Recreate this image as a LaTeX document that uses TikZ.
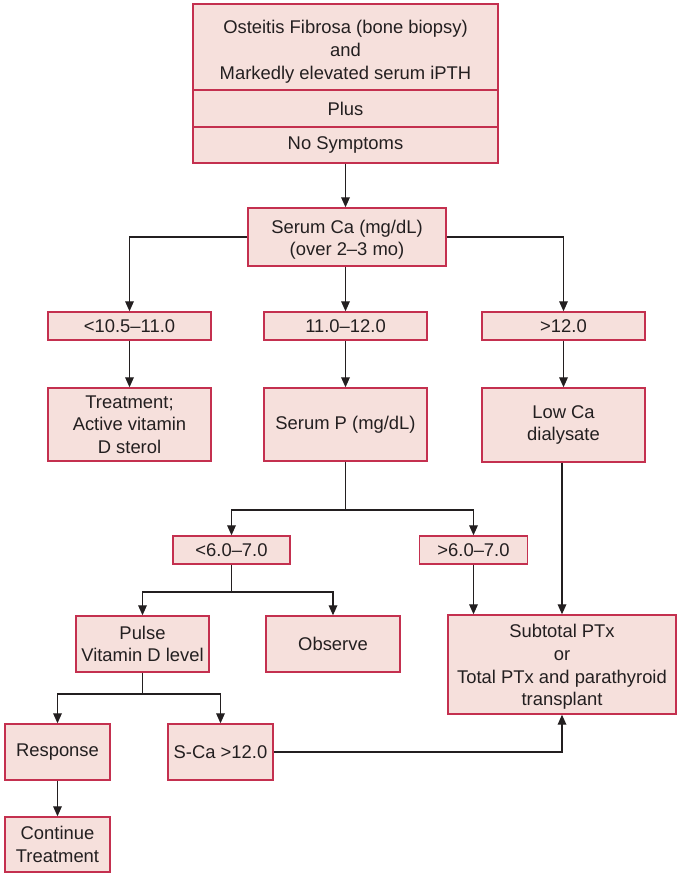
\documentclass[tikz,border=0pt]{standalone}
\usepackage{fontspec}
\setmainfont{Liberation Sans}
\usetikzlibrary{arrows.meta}
\definecolor{boxfill}{HTML}{F6E0DC}
\definecolor{boxline}{HTML}{C4304F}
\definecolor{inkgray}{HTML}{231F20}
% invisible strut that pushes a text block a little down in its box
\newcommand{\lowerby}[1]{\rule{0pt}{#1}}
\begin{document}
\begin{tikzpicture}[x=0.75pt,y=-0.75pt,
  every node/.style={font=\fontsize{13.8}{17}\selectfont, text=inkgray},
  box/.style={draw=boxline, fill=boxfill, line width=1.1pt, inner sep=0pt,
    align=center, anchor=center},
  arr/.style={draw=inkgray, line width=0.9pt, -{Triangle[length=7.5pt,width=6.5pt]}},
  ln/.style={draw=inkgray, line width=0.9pt}]
\useasboundingbox (0,0) rectangle (678,873);
% header block
\node[box, minimum width=305*0.75pt, minimum height=86*0.75pt] (of) at (345.5,47)
  {\lowerby{17pt}Osteitis Fibrosa (bone biopsy)\\and\\Markedly elevated serum iPTH};
\node[box, minimum width=305*0.75pt, minimum height=37*0.75pt] (plus) at (345.5,108.5) {Plus};
\node[box, minimum width=305*0.75pt, minimum height=36*0.75pt] (ns) at (345.5,145) {No Symptoms};
% serum calcium
\node[box, minimum width=198*0.75pt, minimum height=58*0.75pt] (ca) at (347,237)
  {\lowerby{14pt}Serum Ca (mg/dL)\\(over 2--3 mo)};
% calcium ranges
\node[box, minimum width=163*0.75pt, minimum height=28*0.75pt] (lo) at (129.5,326) {<10.5--11.0};
\node[box, minimum width=163*0.75pt, minimum height=28*0.75pt] (mid) at (345.5,326) {11.0--12.0};
\node[box, minimum width=163*0.75pt, minimum height=28*0.75pt] (hi) at (563.5,326) {>12.0};
% second row
\node[box, minimum width=163*0.75pt, minimum height=73*0.75pt] (trt) at (129.5,424.5)
  {Treatment;\\Active vitamin\\D sterol};
\node[box, minimum width=163*0.75pt, minimum height=73*0.75pt] (sp) at (345.5,424.5) {Serum P (mg/dL)};
\node[box, minimum width=163*0.75pt, minimum height=74*0.75pt] (lowca) at (563.5,425)
  {Low Ca\\dialysate};
% phosphorus ranges
\node[box, minimum width=117*0.75pt, minimum height=28*0.75pt] (p1) at (231.5,550) {<6.0--7.0};
\node[box, minimum width=108*0.75pt, minimum height=28*0.75pt] (p2) at (473.5,550) {>6.0--7.0};
% lower row
\node[box, minimum width=133*0.75pt, minimum height=56*0.75pt] (pulse) at (142.5,644)
  {Pulse\\Vitamin D level};
\node[box, minimum width=134*0.75pt, minimum height=56*0.75pt] (obs) at (333,644) {Observe};
\node[box, minimum width=228*0.75pt, minimum height=99*0.75pt] (sub) at (562,664.5)
  {\lowerby{14pt}Subtotal PTx\\or\\Total PTx and parathyroid\\transplant};
\node[box, minimum width=105*0.75pt, minimum height=56*0.75pt] (resp) at (57.5,752) {Response};
\node[box, minimum width=105*0.75pt, minimum height=56*0.75pt] (sca) at (220.5,752) {S-Ca >12.0};
\node[box, minimum width=105*0.75pt, minimum height=55*0.75pt] (cont) at (57.5,844.5)
  {Continue\\Treatment};
% junction points of the split lines
\coordinate (jp) at (345.5,510);
\coordinate (jq) at (231.5,592);
\coordinate (jr) at (142.5,694);
% connectors
\draw[arr] (ns.south) -- (ns.south |- ca.north);
\draw[arr] (ca.west) -| (lo.north);
\draw[arr] (ca.south -| mid.north) -- (mid.north);
\draw[arr] (ca.east) -| (hi.north);
\draw[arr] (lo.south) -- (trt.north);
\draw[arr] (mid.south) -- (sp.north);
\draw[arr] (hi.south) -- (lowca.north);
\draw[ln] (sp.south) -- (jp);
\draw[arr] (jp) -| (p1.north);
\draw[arr] (jp) -| (p2.north);
\draw[ln] (p1.south) -- (jq);
\draw[arr] (jq) -| (pulse.north);
\draw[arr] (jq) -| (obs.north);
\draw[arr] (p2.south) -- (p2.south |- sub.north);
\draw[arr] (lowca.south -| sub.north) -- (sub.north);
\draw[ln] (pulse.south) -- (jr);
\draw[arr] (jr) -| (resp.north);
\draw[arr] (jr) -| (sca.north);
\draw[arr] (resp.south) -- (cont.north);
\draw[arr] (sca.east) -| (sub.south);
\end{tikzpicture}
\end{document}
